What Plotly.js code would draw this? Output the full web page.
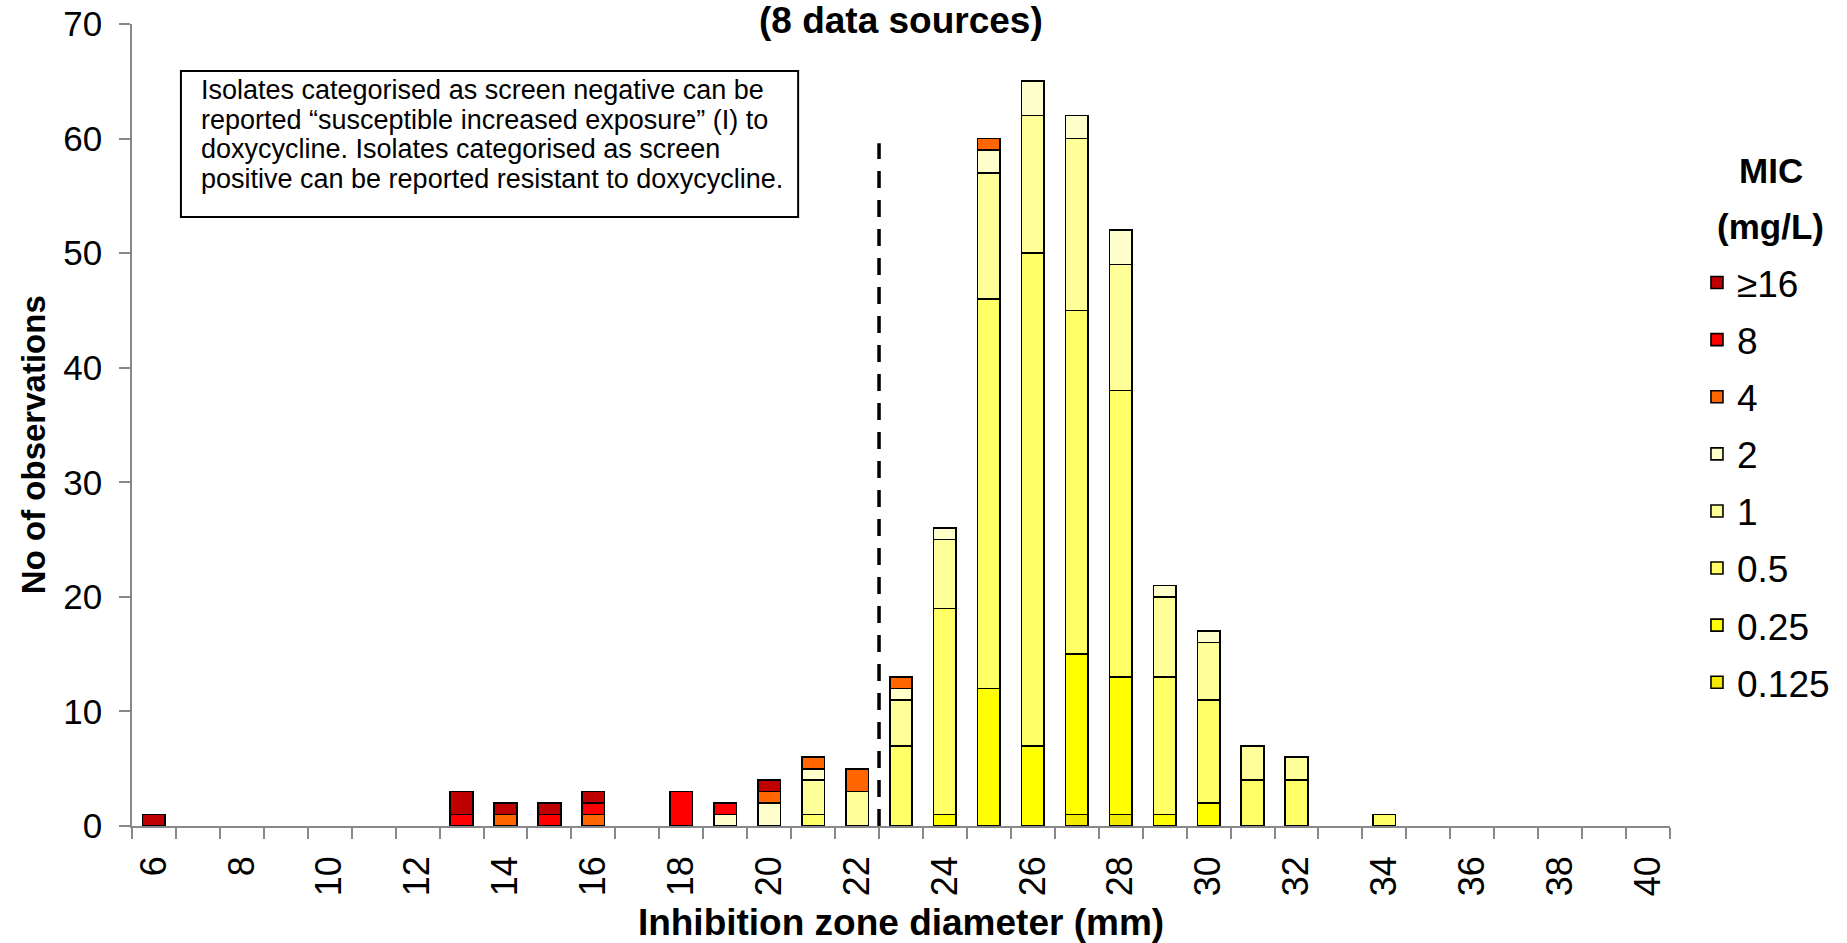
<!DOCTYPE html>
<html>
<head>
<meta charset="utf-8">
<script src="https://cdn.plot.ly/plotly-3.0.1.min.js"></script>
<style>html,body{margin:0;padding:0;background:#fff;}</style>
</head>
<body>
<div id="chart" style="width:1847px;height:943px;"></div>
<script>
// Inhibition zone diameters (mm)
const categories = ['6','7','8','9','10','11','12','13','14','15','16','17','18','19','20','21','22','23','24','25','26','27','28','29','30','31','32','33','34','35','36','37','38','39','40'];
const tickLabels = ['6','','8','','10','','12','','14','','16','','18','','20','','22','','24','','26','','28','','30','','32','','34','','36','','38','','40'];
// counts per MIC (mg/L), one value per diameter above
//                 6  7  8  9 10 11 12 13 14 15 16 17 18 19 20 21 22 23 24 25 26 27 28 29 30 31 32 33 34 35 36 37 38 39 40
const mic0125 =  [ 0, 0, 0, 0, 0, 0, 0, 0, 0, 0, 0, 0, 0, 0, 0, 0, 0, 0, 0, 0, 0, 1, 1, 0, 0, 0, 0, 0, 0, 0, 0, 0, 0, 0, 0];
const mic025 =   [ 0, 0, 0, 0, 0, 0, 0, 0, 0, 0, 0, 0, 0, 0, 0, 0, 0, 0, 1,12, 7,14,12, 1, 2, 0, 0, 0, 0, 0, 0, 0, 0, 0, 0];
const mic05 =    [ 0, 0, 0, 0, 0, 0, 0, 0, 0, 0, 0, 0, 0, 0, 0, 1, 0, 7,18,34,43,30,25,12, 9, 4, 4, 0, 1, 0, 0, 0, 0, 0, 0];
const mic1 =     [ 0, 0, 0, 0, 0, 0, 0, 0, 0, 0, 0, 0, 0, 0, 0, 3, 3, 4, 6,11,12,15,11, 7, 5, 3, 2, 0, 0, 0, 0, 0, 0, 0, 0];
const mic2 =     [ 0, 0, 0, 0, 0, 0, 0, 0, 0, 0, 0, 0, 0, 1, 2, 1, 0, 1, 1, 2, 3, 2, 3, 1, 1, 0, 0, 0, 0, 0, 0, 0, 0, 0, 0];
const mic4 =     [ 0, 0, 0, 0, 0, 0, 0, 0, 1, 0, 1, 0, 0, 0, 1, 1, 2, 1, 0, 1, 0, 0, 0, 0, 0, 0, 0, 0, 0, 0, 0, 0, 0, 0, 0];
const mic8 =     [ 0, 0, 0, 0, 0, 0, 0, 1, 0, 1, 1, 0, 3, 1, 0, 0, 0, 0, 0, 0, 0, 0, 0, 0, 0, 0, 0, 0, 0, 0, 0, 0, 0, 0, 0];
const mic16 =    [ 1, 0, 0, 0, 0, 0, 0, 2, 1, 1, 1, 0, 0, 0, 1, 0, 0, 0, 0, 0, 0, 0, 0, 0, 0, 0, 0, 0, 0, 0, 0, 0, 0, 0, 0];

const seriesNames = ['0.125','0.25','0.5','1','2','4','8','≥16'];
const seriesValues = [mic0125, mic025, mic05, mic1, mic2, mic4, mic8, mic16];
const seriesColors = ['#F2EA00','#FFFF00','#FFFF66','#FFFF99','#FFFFCC','#FF6600','#FF0000','#C00000'];

const noteLines = [
  'Isolates categorised as screen negative can be',
  'reported \u201csusceptible increased exposure\u201d (I) to',
  'doxycycline. Isolates categorised as screen',
  'positive can be reported resistant to doxycycline.'
];

const FONT = 'Liberation Sans, Arial, sans-serif';

const traces = seriesNames.map((name, i) => ({
  type: 'bar',
  name: name,
  x: categories,
  y: seriesValues[i].map(v => (v === 0 ? null : v)),
  legendgroup: 'g' + i,
  legendrank: seriesNames.length - i,
  marker: { color: seriesColors[i], line: { color: '#000000', width: 1.6 } },
  hoverinfo: 'x+y+name'
}));

// plot area in px: left 132, right 1672, top 24, bottom 826
const L = 132, R = 1672, T = 24, B = 826;
const px = x => (x - L) / (R - L);
const py = y => (B - y) / (B - T);

const annotations = [
  { text: '<b>(8 data sources)</b>', xref: 'paper', yref: 'paper', x: 0.5, y: py(20),
    xanchor: 'center', yanchor: 'middle', showarrow: false, font: { family: FONT, size: 37, color: '#000' } },
  { text: '<b>No of observations</b>', xref: 'paper', yref: 'paper', x: px(33), y: py(445), textangle: -90,
    xanchor: 'center', yanchor: 'middle', showarrow: false, font: { family: FONT, size: 33, color: '#000' } },
  { text: '<b>MIC</b>', xref: 'paper', yref: 'paper', x: px(1773), y: py(171),
    xanchor: 'center', yanchor: 'middle', showarrow: false, font: { family: FONT, size: 35, color: '#000' } },
  { text: '<b>(mg/L)</b>', xref: 'paper', yref: 'paper', x: px(1773), y: py(227),
    xanchor: 'center', yanchor: 'middle', showarrow: false, font: { family: FONT, size: 35, color: '#000' } }
];
noteLines.forEach((t, i) => {
  annotations.push({ text: t, xref: 'paper', yref: 'paper', x: px(199), y: py(90.5 + i * 29.4),
    xanchor: 'left', yanchor: 'middle', showarrow: false, font: { family: FONT, size: 27, color: '#000' } });
});

const layout = {
  width: 1847, height: 943,
  margin: { l: L, r: 1847 - R, t: T, b: 943 - B, pad: 0 },
  paper_bgcolor: '#ffffff', plot_bgcolor: '#ffffff',
  font: { family: FONT, color: '#000' },
  barmode: 'stack',
  bargap: 0.486,
  showlegend: true,
  xaxis: {
    type: 'category', categoryorder: 'array', categoryarray: categories,
    tickmode: 'array', tickvals: categories, ticktext: tickLabels,
    tickangle: -90, tickson: 'boundaries', ticks: 'outside', ticklen: 11, tickwidth: 1.5, tickcolor: '#888888',
    ticklabelstandoff: 14,
    showline: true, linecolor: '#888888', linewidth: 1.5, showgrid: false, zeroline: false,
    range: [-0.5, 34.5], fixedrange: true,
    tickfont: { family: FONT, size: 36, color: '#000' },
    title: { text: '<b>Inhibition zone diameter (mm)</b>', font: { family: FONT, size: 37, color: '#000' }, standoff: 14 }
  },
  yaxis: {
    range: [0, 70], dtick: 10, tick0: 0, ticks: 'outside', ticklen: 11, tickwidth: 1.5, tickcolor: '#888888',
    ticklabelstandoff: 10,
    showline: true, linecolor: '#888888', linewidth: 1.5, showgrid: false, zeroline: false, fixedrange: true,
    tickfont: { family: FONT, size: 35, color: '#000' }
  },
  legend: {
    x: px(1699), xanchor: 'left', y: py(252), yanchor: 'top',
    traceorder: 'grouped', tracegroupgap: 6,
    font: { family: FONT, size: 37, color: '#000' },
    bgcolor: 'rgba(0,0,0,0)', borderwidth: 0
  },
  shapes: [
    { type: 'rect', xref: 'paper', yref: 'paper', x0: px(181), x1: px(799), y0: py(217), y1: py(71),
      line: { color: '#000', width: 2 }, fillcolor: 'rgba(0,0,0,0)' },
    { type: 'line', xref: 'x', yref: 'y', x0: 16.5, x1: 16.5, y0: 0, y1: 59.6,
      line: { color: '#000', width: 3.5, dash: '17px,12px' } }
  ],
  annotations: annotations
};

Plotly.newPlot('chart', traces, layout, { displayModeBar: false });
</script>
</body>
</html>
